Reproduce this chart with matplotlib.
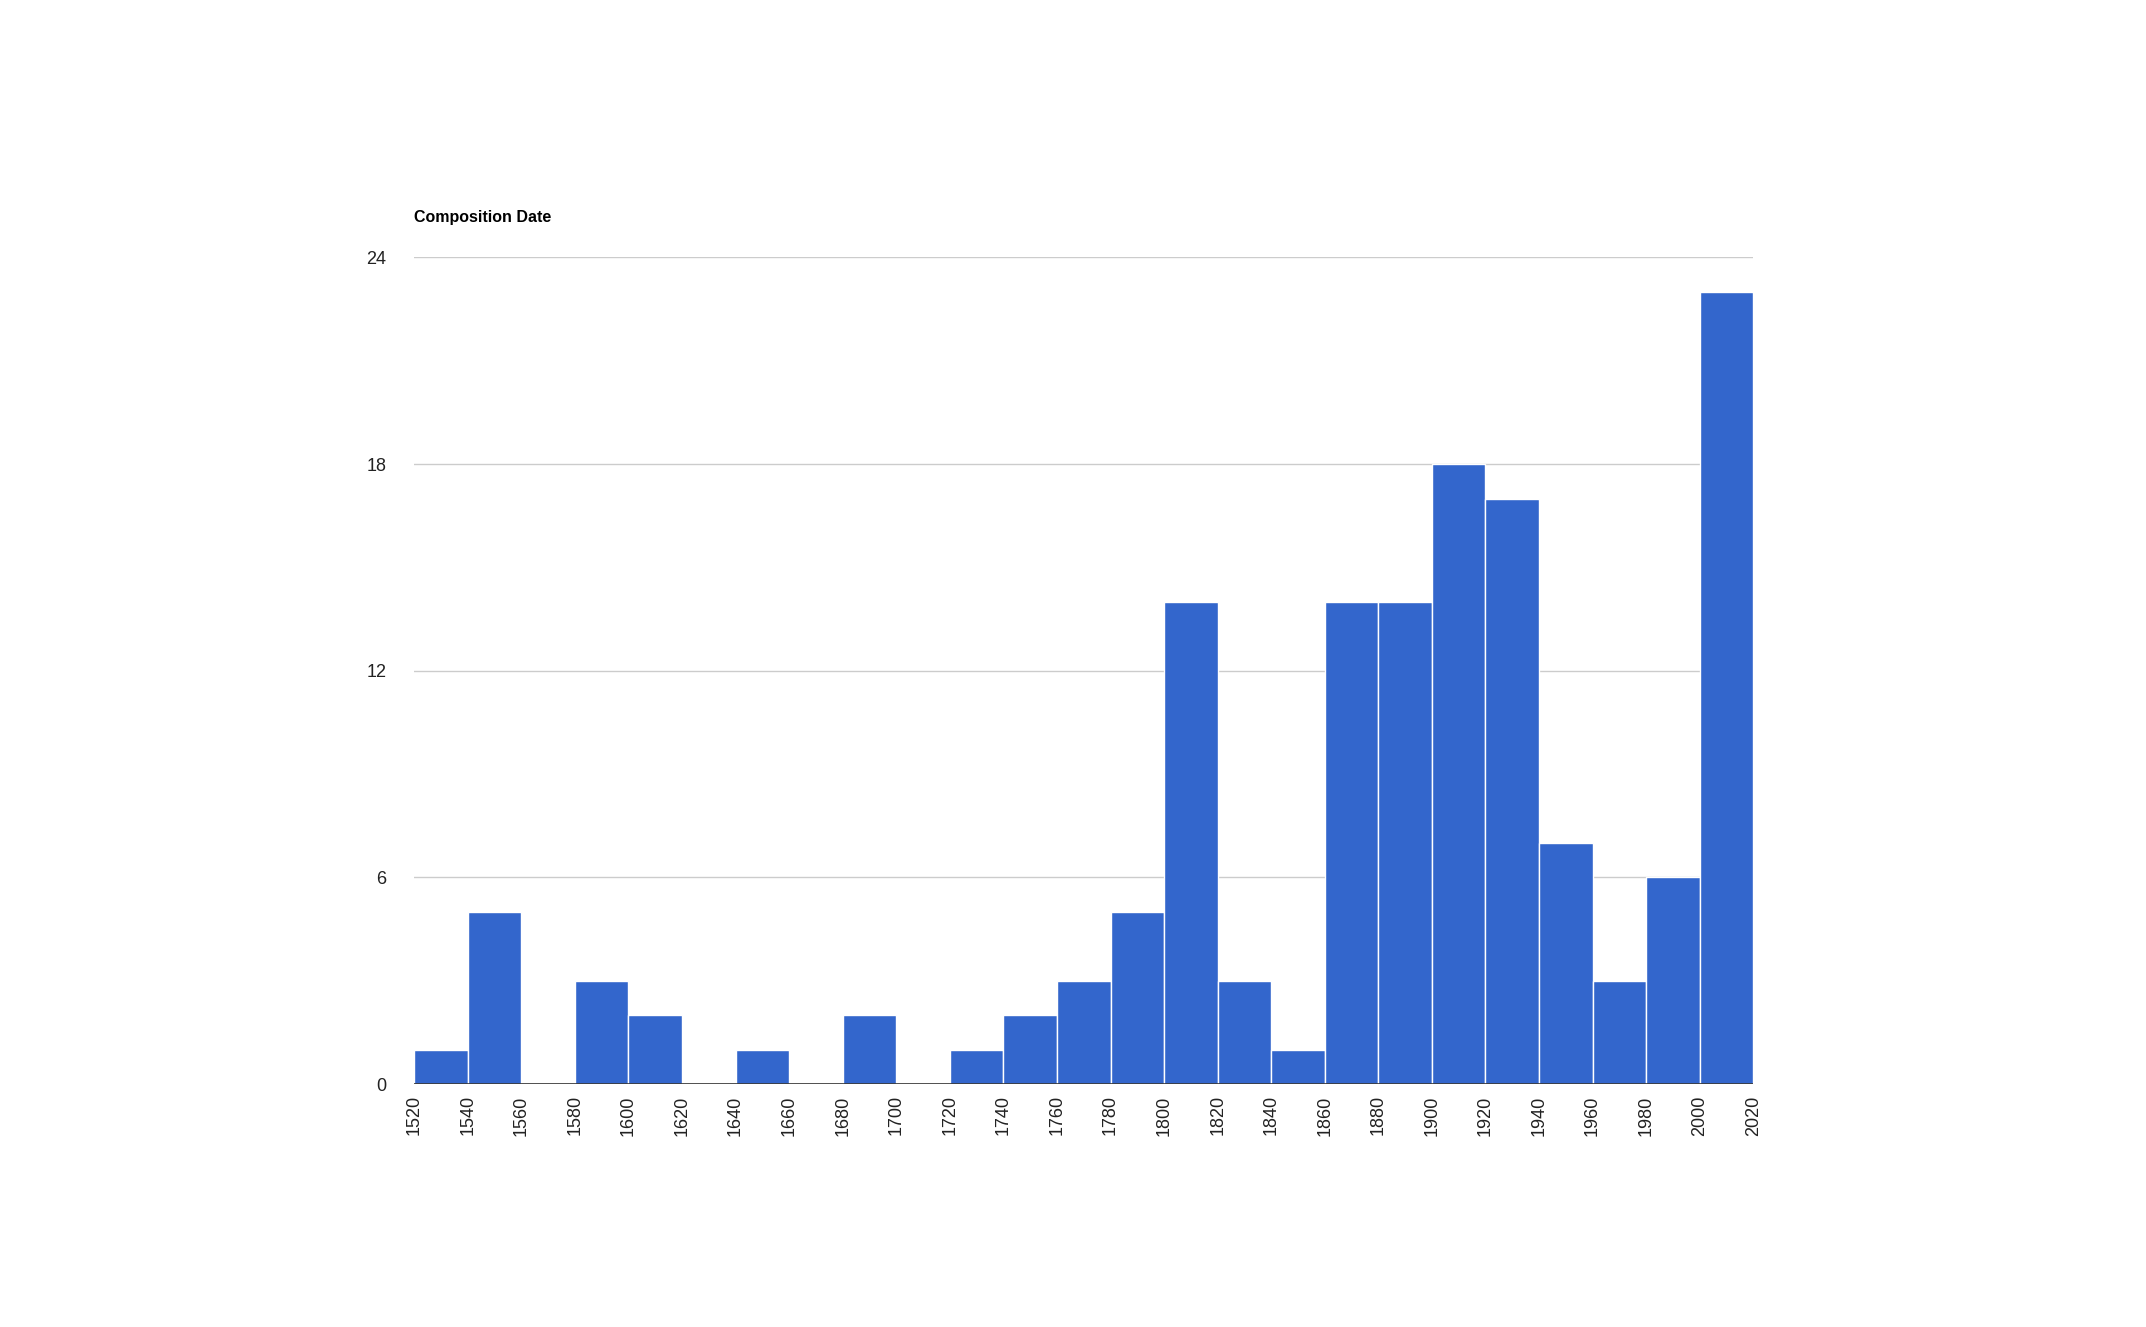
import matplotlib.pyplot as plt
import numpy as np

# histogram bins, 20-year width
bin_edges = list(range(1520, 2021, 20))
counts = [1, 5, 0, 3, 2, 0, 1, 0, 2, 0, 1, 2, 3, 5, 14, 3, 1, 14, 14, 18, 17, 7, 3, 6, 23]
y_ticks = [0, 6, 12, 18, 24]

plt.rcParams['font.family'] = ['Arial', 'Liberation Sans', 'DejaVu Sans']

fig = plt.figure(figsize=(21.46, 13.27), dpi=100)
ax = fig.add_axes([0.193, 0.183, 0.624, 0.623])

ax.bar(bin_edges[:-1], counts, width=20, align='edge', color='#3366cc',
       edgecolor='white', linewidth=1, zorder=3)

ax.set_xlim(1520, 2020)
ax.set_ylim(0, 24)
ax.set_yticks(y_ticks)
ax.set_xticks(bin_edges)
ax.set_xticklabels([str(b) for b in bin_edges], rotation=90)
ax.grid(axis='y', color='#cccccc', linewidth=1, zorder=0)
ax.axhline(0, color='#333333', linewidth=1.2, zorder=4)
for s in ax.spines.values():
    s.set_visible(False)
ax.tick_params(axis='both', length=0, labelsize=13, colors='#222222', pad=8)
ax.tick_params(axis='y', pad=20)

fig.text(0.193, 0.836, 'Composition Date', fontsize=11.5, fontweight='bold',
         ha='left', va='center', color='#000000')

fig.savefig('out.png', dpi=100, facecolor='white')
